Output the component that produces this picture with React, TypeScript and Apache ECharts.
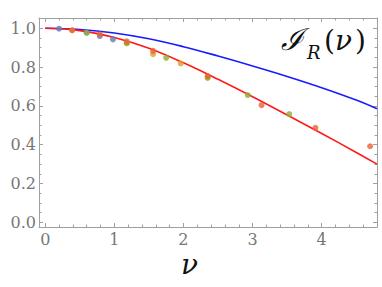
import React, { useEffect, useRef } from "react";
import * as echarts from "echarts";

// Smooth theory curves
const curveNu = [0, 0.5, 1, 1.5, 2, 2.5, 3, 3.5, 4, 4.5, 4.8];
const blueCurve = [1.0, 0.994, 0.976, 0.946, 0.905, 0.857, 0.806, 0.752, 0.694, 0.63, 0.585];
const redCurve = [1.0, 0.988, 0.953, 0.897, 0.822, 0.737, 0.647, 0.553, 0.458, 0.36, 0.3];

// Data points
const blueNu = [0.2, 0.6, 0.79, 0.98];
const blueVals = [0.998, 0.977, 0.96, 0.943];
const orangeNu = [0.39, 1.18, 1.56, 1.96, 2.35];
const orangeVals = [0.99, 0.923, 0.867, 0.819, 0.745];
const greenNu = [0.6, 1.18, 1.75, 2.35, 2.93, 3.53];
const greenVals = [0.977, 0.923, 0.848, 0.745, 0.656, 0.558];
const redNu = [0.39, 0.79, 1.18, 1.56, 2.35, 3.13, 3.91, 4.7];
const redVals = [0.99, 0.969, 0.933, 0.884, 0.754, 0.604, 0.487, 0.392];

// Ticks
const xMajorTicks = [0, 1, 2, 3, 4];
const xTickLabels = ["0", "1", "2", "3", "4"];
const xMinorTicks = [0.2, 0.4, 0.6, 0.8, 1.2, 1.4, 1.6, 1.8, 2.2, 2.4, 2.6, 2.8, 3.2, 3.4, 3.6, 3.8, 4.2, 4.4, 4.6];
const yMajorTicks = [0, 0.2, 0.4, 0.6, 0.8, 1.0];
const yTickLabels = ["0.0", "0.2", "0.4", "0.6", "0.8", "1.0"];
const yMinorTicks = [0.05, 0.1, 0.15, 0.25, 0.3, 0.35, 0.45, 0.5, 0.55, 0.65, 0.7, 0.75, 0.85, 0.9, 0.95];

const X_MIN = -0.09;
const X_MAX = 4.8;
const Y_MIN = -0.024;
const Y_MAX = 1.053;

const frameColor = "#a0a0a0";
const labelColor = "#777777";
const serif = "DejaVu Serif";

const pairs = (xs: number[], ys: number[]) => xs.map((x, i) => [x, ys[i]]);

export default function App() {
  const ref = useRef<HTMLDivElement>(null);
  useEffect(() => {
    if (!ref.current) return;
    const chart = echarts.init(ref.current, null, { renderer: "svg" });

    const labelFor = (ticks: number[], labels: string[]) => (v: number) => {
      const i = ticks.findIndex((t) => Math.abs(t - v) < 1e-6);
      return i >= 0 ? labels[i] : "";
    };

    const axis = (
      kind: "x" | "y",
      position: string,
      ticks: number[],
      len: number,
      labels: boolean,
      line: boolean
    ) => ({
      type: "value",
      position,
      min: kind === "x" ? X_MIN : Y_MIN,
      max: kind === "x" ? X_MAX : Y_MAX,
      axisLine: { show: line, onZero: false, lineStyle: { color: frameColor, width: 1 } },
      axisTick: {
        show: true,
        inside: true,
        length: len,
        customValues: ticks,
        lineStyle: { color: frameColor, width: 1 },
      },
      axisLabel: {
        show: labels,
        customValues: ticks,
        formatter: kind === "x" ? labelFor(xMajorTicks, xTickLabels) : labelFor(yMajorTicks, yTickLabels),
        color: labelColor,
        fontFamily: serif,
        fontSize: 16,
        margin: kind === "x" ? 4 : 3,
      },
      splitLine: { show: false },
    });

    const dot = (name: string, xs: number[], ys: number[], color: string) => ({
      name,
      type: "scatter",
      data: pairs(xs, ys),
      symbol: "circle",
      symbolSize: 6,
      itemStyle: { color },
      z: 5,
    });
    const curve = (name: string, ys: number[], color: string) => ({
      name,
      type: "line",
      data: pairs(curveNu, ys),
      smooth: 0.4,
      showSymbol: false,
      lineStyle: { color, width: 1.6 },
      z: 3,
    });

    const txt = (text: string, left: number, top: number, size: number, italic: boolean) => ({
      type: "text",
      left,
      top,
      style: {
        text,
        fontFamily: serif,
        fontSize: size,
        fontStyle: italic ? "italic" : "normal",
        fill: "#111",
      },
    });

    chart.setOption({
      animation: false,
      grid: { left: 39, right: 5, top: 18, bottom: 60, containLabel: false },
      xAxis: [
        axis("x", "bottom", xMajorTicks, 4, true, true),
        axis("x", "bottom", xMinorTicks, 2.5, false, false),
        axis("x", "top", xMajorTicks, 4, false, true),
        axis("x", "top", xMinorTicks, 2.5, false, false),
      ],
      yAxis: [
        axis("y", "left", yMajorTicks, 4, true, true),
        axis("y", "left", yMinorTicks, 2.5, false, false),
        axis("y", "right", yMajorTicks, 4, false, true),
        axis("y", "right", yMinorTicks, 2.5, false, false),
      ],
      series: [
        curve("blue curve", blueCurve, "#1a1aff"),
        curve("red curve", redCurve, "#ff1a1a"),
        dot("blue", blueNu, blueVals, "#5E81B5"),
        dot("orange", orangeNu, orangeVals, "#E19C24"),
        dot("green", greenNu, greenVals, "#8FB032"),
        dot("red", redNu, redVals, "#EB6235"),
      ],
      graphic: [
        txt("ν", 181, 250, 28, true),
        txt("ℐ", 281, 24, 30, true),
        txt("R", 307, 43, 18, true),
        txt("(", 324, 26, 28, false),
        txt("ν", 335, 26, 28, true),
        txt(")", 355, 26, 28, false),
      ],
    });
    return () => chart.dispose();
  }, []);
  return (
    <div
      ref={ref}
      style={{ position: "absolute", left: 0, top: 0, width: 382, height: 287, background: "#fff" }}
    />
  );
}
